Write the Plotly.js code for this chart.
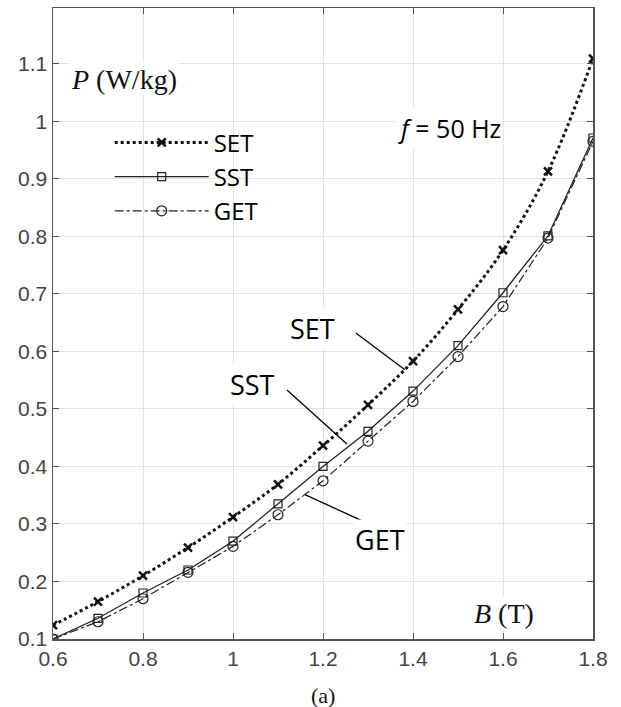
<!DOCTYPE html>
<html>
<head>
<meta charset="utf-8">
<script src="https://cdn.plot.ly/plotly-3.0.1.min.js"></script>
<style>html,body{margin:0;padding:0;background:#fff;}#chart{width:621px;height:707px;}</style>
</head>
<body>
<div id="chart"></div>
<script>
const B = [0.6, 0.7, 0.8, 0.9, 1.0, 1.1, 1.2, 1.3, 1.4, 1.5, 1.6, 1.7, 1.8];
const SET = [0.124, 0.165, 0.210, 0.259, 0.312, 0.369, 0.436, 0.507, 0.583, 0.673, 0.776, 0.913, 1.109];
const SST = [0.100, 0.136, 0.180, 0.220, 0.270, 0.335, 0.400, 0.461, 0.531, 0.610, 0.702, 0.801, 0.971];
const GET = [0.100, 0.130, 0.170, 0.216, 0.261, 0.316, 0.375, 0.444, 0.513, 0.591, 0.678, 0.797, 0.965];
const seriesNames = ['SET', 'SST', 'GET'];
const xTicks = [0.6, 0.8, 1.0, 1.2, 1.4, 1.6, 1.8];
const xTickText = ['0.6', '0.8', '1', '1.2', '1.4', '1.6', '1.8'];
const yTicks = [0.1, 0.2, 0.3, 0.4, 0.5, 0.6, 0.7, 0.8, 0.9, 1.0, 1.1];
const yTickText = ['0.1', '0.2', '0.3', '0.4', '0.5', '0.6', '0.7', '0.8', '0.9', '1', '1.1'];

const traces = [
  {x: B, y: SET, name: seriesNames[0], mode: 'lines+markers', line: {color: '#111', width: 3, dash: 'dot', shape: 'spline'},
   marker: {symbol: 'x-thin', size: 8, line: {color: '#111', width: 2.5}, color: '#111'}},
  {x: B, y: SST, name: seriesNames[1], mode: 'lines+markers', line: {color: '#222', width: 1.3, dash: 'solid'},
   marker: {symbol: 'square-open', size: 8, color: '#222', line: {width: 1.2}}},
  {x: B, y: GET, name: seriesNames[2], mode: 'lines+markers', line: {color: '#222', width: 1.2, dash: 'dashdot'},
   marker: {symbol: 'circle-open', size: 10, color: '#222', line: {width: 1.2}}}
];

const axisCommon = {
  showgrid: true, gridcolor: '#e3e3e3', gridwidth: 1,
  showline: true, linecolor: '#555', linewidth: 1.5, mirror: 'ticks',
  ticks: 'inside', ticklen: 6, tickcolor: '#555', tickwidth: 1,
  tickfont: {family: 'Liberation Sans, Arial, sans-serif', size: 21, color: '#444'},
  zeroline: false, fixedrange: true
};

const layout = {
  width: 621, height: 707,
  margin: {l: 53, r: 28, t: 8, b: 68},
  paper_bgcolor: '#fff', plot_bgcolor: '#fff',
  showlegend: true,
  legend: {x: 0.105, y: 0.822, xanchor: 'left', yanchor: 'top', bgcolor: 'rgba(0,0,0,0)',
    font: {family: 'Open Sans, sans-serif', size: 24, color: '#000'}, itemwidth: 94, tracegroupgap: 0},
  xaxis: Object.assign({}, axisCommon, {range: [0.6, 1.8], tickvals: xTicks, ticktext: xTickText}),
  yaxis: Object.assign({}, axisCommon, {range: [0.1, 1.197], tickvals: yTicks, ticktext: yTickText}),
  annotations: [
    {xref: 'paper', yref: 'paper', x: 0.03, y: 0.886, xanchor: 'left', yanchor: 'middle', showarrow: false,
     text: '<i>P</i> (W/kg)', font: {family: 'Liberation Serif, Times New Roman, serif', size: 28, color: '#111'}, bgcolor: '#fff'},
    {xref: 'paper', yref: 'paper', x: 0.895, y: 0.04, xanchor: 'right', yanchor: 'middle', showarrow: false,
     text: '<i>B</i> (T)', font: {family: 'Liberation Serif, Times New Roman, serif', size: 28, color: '#111'}, bgcolor: '#fff'},
    {xref: 'paper', yref: 'paper', x: 0.735, y: 0.81, xanchor: 'center', yanchor: 'middle', showarrow: false,
     text: '<i>f</i> = 50 Hz', font: {family: 'Open Sans, sans-serif', size: 25, color: '#000'}, bgcolor: '#fff'},
    {xref: 'x', yref: 'y', x: 1.176, y: 0.639, showarrow: false, text: 'SET',
     font: {family: 'Open Sans, sans-serif', size: 27, color: '#000'}, bgcolor: '#fff'},
    {xref: 'x', yref: 'y', x: 1.044, y: 0.543, showarrow: false, text: 'SST',
     font: {family: 'Open Sans, sans-serif', size: 27, color: '#000'}, bgcolor: '#fff'},
    {xref: 'x', yref: 'y', x: 1.327, y: 0.273, showarrow: false, text: 'GET',
     font: {family: 'Open Sans, sans-serif', size: 27, color: '#000'}, bgcolor: '#fff'},
    {xref: 'paper', yref: 'paper', x: 0.5, y: -0.09, xanchor: 'center', yanchor: 'middle', showarrow: false,
     text: '(a)', font: {family: 'Liberation Serif, Times New Roman, serif', size: 22, color: '#111'}}
  ],
  shapes: [
    {type: 'line', xref: 'x', yref: 'y', x0: 1.273, y0: 0.632, x1: 1.382, y1: 0.568, line: {color: '#000', width: 1.3}},
    {type: 'line', xref: 'x', yref: 'y', x0: 1.12, y0: 0.533, x1: 1.253, y1: 0.439, line: {color: '#000', width: 1.3}},
    {type: 'line', xref: 'x', yref: 'y', x0: 1.16, y0: 0.351, x1: 1.291, y1: 0.304, line: {color: '#000', width: 1.3}}
  ]
};

Plotly.newPlot('chart', traces, layout, {displayModeBar: false, staticPlot: true});
</script>
</body>
</html>
